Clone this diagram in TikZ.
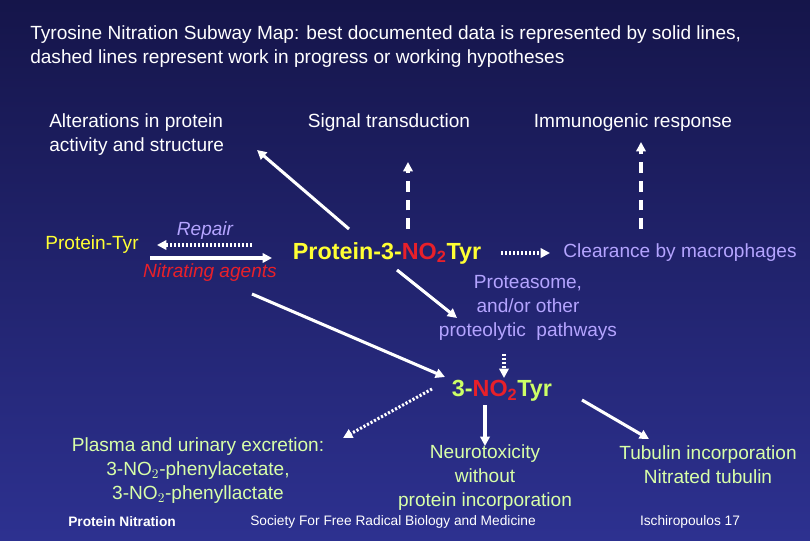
\documentclass[tikz,border=0pt]{standalone}
\usepackage{fontspec}
\setmainfont{Liberation Sans}
\usetikzlibrary{arrows.meta}
\definecolor{bgtop}{HTML}{15154A}
\definecolor{bgbot}{HTML}{2D3190}
\definecolor{yel}{HTML}{FFFF33}
\definecolor{lav}{HTML}{B4A4FF}
\definecolor{rd}{HTML}{E8202A}
\definecolor{grn}{HTML}{CCFF66}
\definecolor{pale}{HTML}{D8FFA8}
\tikzset{
  lbl/.style={font=\fontsize{14.3}{18}\selectfont, text=white, align=center, inner sep=0pt},
  arr/.style={draw=white, line width=2.3pt, -{Triangle[length=7pt,width=7pt]}},
  dotarr/.style={arr, dash pattern=on 1.6pt off 1.4pt},
  dasharr/.style={arr, dash pattern=on 8pt off 6pt},
}
\begin{document}
\begin{tikzpicture}[x=0.75pt,y=-0.75pt]
\shade[top color=bgtop, bottom color=bgbot] (0,0) rectangle (810,540);
\useasboundingbox (0,0) rectangle (810,540);
\node[lbl, anchor=west, align=left] (title) at (30,47) {Tyrosine Nitration Subway Map: best documented data is represented by solid lines,\\dashed lines represent work in progress or working hypotheses};
\node[lbl, anchor=west, align=left] (alt) at (49,135) {Alterations in protein\\activity and structure};
\node[lbl] (sig) at (389,123) {Signal transduction};
\node[lbl] (imm) at (633,123) {Immunogenic response};
\node[lbl, text=yel] (ptyr) at (92,245) {Protein-Tyr};
\node[lbl, text=lav, font=\fontsize{14.3}{18}\selectfont\itshape] (rep) at (205,231) {Repair};
\node[lbl, text=rd, font=\fontsize{14.3}{18}\selectfont\itshape] (nit) at (210,273) {Nitrating agents};
\node[lbl, text=yel, font=\fontsize{17.5}{20}\selectfont\bfseries] (pno) at (387,253) {Protein-3-{\color{rd}NO$_{\mathbf 2}$}Tyr};
\node[lbl, text=lav] (clr) at (680,253) {Clearance by macrophages};
\node[lbl, text=lav] (prot) at (528,308) {Proteasome,\\and/or other\\proteolytic\ \ pathways};
\node[lbl, text=grn, font=\fontsize{17.5}{20}\selectfont\bfseries] (tno) at (502,391) {3-{\color{rd}NO$_{\mathbf 2}$}Tyr};
\node[lbl, text=pale] (pla) at (198,471) {Plasma and urinary excretion:\\3-NO$_2$-phenylacetate,\\3-NO$_2$-phenyllactate};
\node[lbl, text=pale] (neu) at (485,478) {Neurotoxicity\\without\\protein incorporation};
\node[lbl, text=pale] (tub) at (708,465) {Tubulin incorporation\\Nitrated tubulin};
\node[lbl, font=\fontsize{10.3}{12}\selectfont\bfseries, anchor=west] (f1) at (68,522) {Protein Nitration};
\node[lbl, font=\fontsize{10.3}{12}\selectfont] (f2) at (393,522) {Society For Free Radical Biology and Medicine};
\node[lbl, font=\fontsize{10.3}{12}\selectfont] (f3) at (690,522) {Ischiropoulos 17};
% connectors
\coordinate (a1) at (252,245); \coordinate (a2) at (157,245);
\draw[dotarr] (a1) -- (a2);
\coordinate (b1) at (150,258); \coordinate (b2) at (272,258);
\draw[arr] (b1) -- (b2);
\coordinate (c1) at (349,229); \coordinate (c2) at (257,150);
\draw[arr] (c1) -- (c2);
\coordinate (d1) at (408,229); \coordinate (d2) at (408,162);
\draw[dasharr] (d1) -- (d2);
\coordinate (e1) at (641,229); \coordinate (e2) at (641,142);
\draw[dasharr] (e1) -- (e2);
\coordinate (f1c) at (501,253); \coordinate (f2c) at (550,253);
\draw[dotarr] (f1c) -- (f2c);
\coordinate (g1) at (397,270); \coordinate (g2) at (457,318);
\draw[arr] (g1) -- (g2);
\coordinate (h1) at (504,354); \coordinate (h2) at (504,378);
\draw[dotarr] (h1) -- (h2);
\coordinate (i1) at (252,294); \coordinate (i2) at (445,377);
\draw[arr] (i1) -- (i2);
\coordinate (j1) at (432,389); \coordinate (j2) at (343,438);
\draw[dotarr] (j1) -- (j2);
\coordinate (k1) at (485,405); \coordinate (k2) at (485,446);
\draw[arr] (k1) -- (k2);
\coordinate (l1) at (582,400); \coordinate (l2) at (649,439);
\draw[arr] (l1) -- (l2);
\end{tikzpicture}
\end{document}
